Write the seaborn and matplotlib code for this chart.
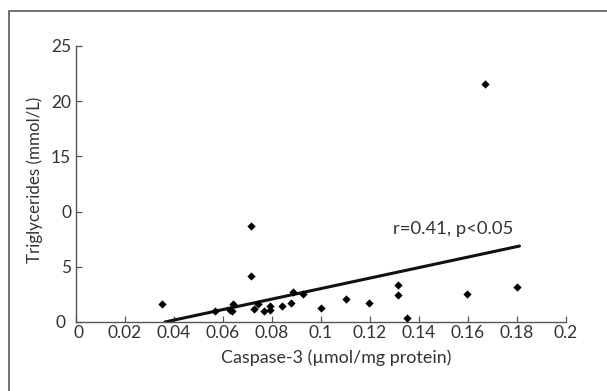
import matplotlib
matplotlib.use("Agg")
import matplotlib.pyplot as plt
import seaborn as sns
import pandas as pd
from matplotlib.patches import Rectangle
from matplotlib.transforms import ScaledTranslation

# Data
caspase = [0.0350, 0.0569, 0.0630, 0.0636, 0.0641, 0.0713, 0.0714, 0.0727,
           0.0744, 0.0767, 0.0790, 0.0793, 0.0840, 0.0878, 0.0887, 0.0925,
           0.0999, 0.1103, 0.1195, 0.1313, 0.1313, 0.1350, 0.1597, 0.1669,
           0.1801]
triglycerides = [1.64, 1.03, 1.10, 1.03, 1.64, 4.18, 8.73, 1.21,
                 1.64, 1.03, 1.45, 1.10, 1.48, 1.76, 2.73, 2.58,
                 1.30, 2.12, 1.76, 3.39, 2.48, 0.36, 2.55, 21.55,
                 3.21]
fit_x = [0.0363, 0.181]
fit_y = [0.0, 6.88]
x_ticks = [0, 0.02, 0.04, 0.06, 0.08, 0.1, 0.12, 0.14, 0.16, 0.18, 0.2]
x_tick_labels = ["0", "0.02", "0.04", "0.06", "0.08", "0.1", "0.12", "0.14", "0.16", "0.18", "0.2"]
y_ticks = [0, 5, 10, 15, 20, 25]
y_tick_labels = ["0", "5", "0", "15", "20", "25"]
annotation = "r=0.41, p<0.05"
x_label = "Caspase-3 (\u00b5mol/mg protein)"
y_label = "Triglycerides (mmol/L)"

sns.set_theme(style="ticks")
plt.rcParams["font.family"] = ["Lato", "DejaVu Sans"]

df = pd.DataFrame({"x": caspase, "y": triglycerides})
fit = pd.DataFrame({"x": fit_x, "y": fit_y})

W, H = 607, 391
fig = plt.figure(figsize=(W / 100, H / 100), dpi=100)
L, R, T, B = 76, 566, 46, 322
ax = fig.add_axes([L / W, 1 - B / H, (R - L) / W, (B - T) / H])

sns.scatterplot(data=df, x="x", y="y", ax=ax, marker="D", s=15,
                color="black", edgecolor="black", linewidth=0.3, zorder=3)
sns.lineplot(data=fit, x="x", y="y", ax=ax, color="#111111", linewidth=2.2,
             zorder=2)

ax.set_xlim(0, 0.2)
ax.set_ylim(0, 25)
ax.set_xticks(x_ticks)
ax.set_xticklabels(x_tick_labels)
ax.set_yticks(y_ticks)
ax.set_yticklabels(y_tick_labels)
ax.tick_params(direction="in", length=4.5, width=0.9, colors="#555555",
               labelcolor="#333333", labelsize=12.5)
ax.tick_params(axis="x", pad=2.5)
ax.tick_params(axis="y", pad=3.5)
for s in ["top", "right"]:
    ax.spines[s].set_visible(False)
for s in ["left", "bottom"]:
    ax.spines[s].set_color("#555555")
    ax.spines[s].set_linewidth(1.0)

xl = ax.set_xlabel(x_label, fontsize=12, color="#333333")
yl = ax.set_ylabel(y_label, fontsize=12, color="#333333")

# fit label sizes to reference pixel extents
fig.canvas.draw()
r = fig.canvas.get_renderer()
wx = xl.get_window_extent(r).width
xl.set_fontsize(12 * 229 / wx)
hy = yl.get_window_extent(r).height
yl.set_fontsize(12 * 165 / hy)
ax.xaxis.set_label_coords((336 - L) / (R - L), (B - 349) / (B - T))
ax.yaxis.set_label_coords((43 - L) / (R - L), (B - 180) / (B - T))

# small offsets of the two corner "0" labels as in the reference
ytick0 = ax.yaxis.get_major_ticks()[0].label1
ytick0.set_transform(ytick0.get_transform() +
                     ScaledTranslation(-6 / 100, 0, fig.dpi_scale_trans))
xtick0 = ax.xaxis.get_major_ticks()[0].label1
xtick0.set_transform(xtick0.get_transform() +
                     ScaledTranslation(3 / 100, 0, fig.dpi_scale_trans))

ax.text(0.1784, 7.97, annotation, fontsize=13.3, color="#333333",
        ha="right", va="baseline")

fig.patches.append(Rectangle((8.5 / W, -0.1), 1.2, 1 - 10.5 / H + 0.1,
                             transform=fig.transFigure, fill=False,
                             edgecolor="#666666", linewidth=1.3))

fig.savefig("out.png", dpi=100)
